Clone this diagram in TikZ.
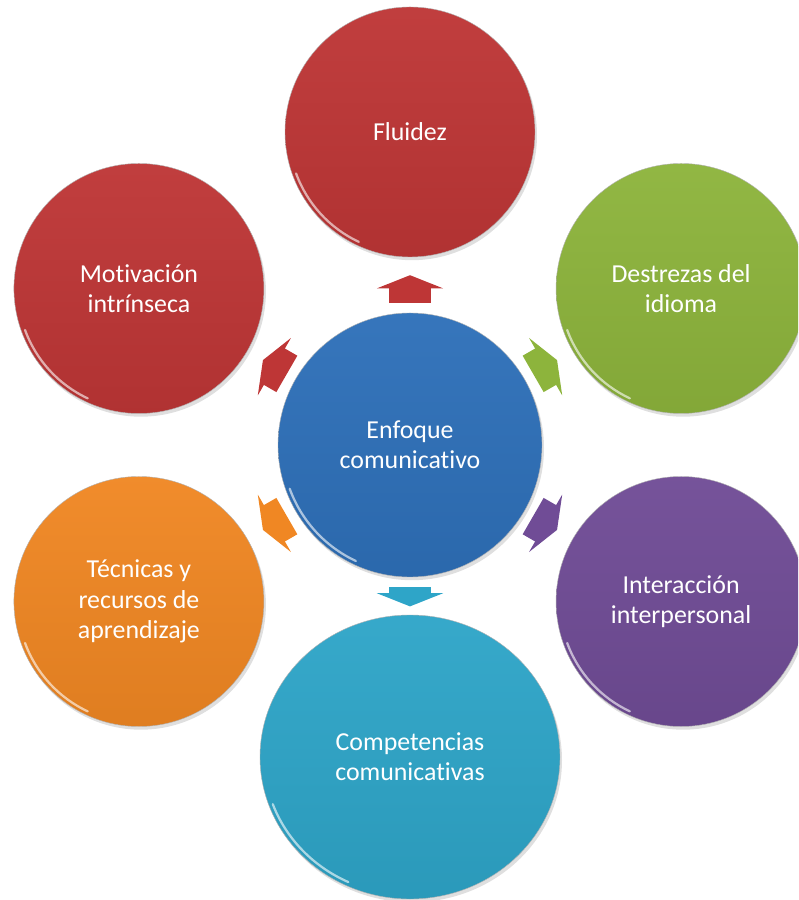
\documentclass[tikz,border=0pt]{standalone}
\usepackage{fontspec}
\setmainfont[Ligatures=NoCommon]{Carlito}
\usetikzlibrary{arrows.meta,shadows,shapes.geometric}
\definecolor{rojo}{RGB}{190,54,54}
\definecolor{verde}{RGB}{141,180,60}
\definecolor{morado}{RGB}{112,76,150}
\definecolor{cian}{RGB}{46,165,200}
\definecolor{naranja}{RGB}{240,135,35}
\definecolor{azul}{RGB}{46,112,185}
\tikzset{
  bubble/.style = {circle, minimum size=6.25cm, inner sep=0pt,
                   align=center, text=white,
                   font=\fontsize{18.4}{21.5}\selectfont,
                   draw=black!30, line width=0.3pt,
                   top color=#1!96!white, bottom color=#1!93!black,
                   drop shadow={opacity=0.25, shadow xshift=0.05cm,
                                shadow yshift=-0.08cm}},
  hub/.style    = {bubble=#1, minimum size=6.6cm},
  flecha/.style = {draw=#1, line width=1.05cm,
                   -{Triangle[width=1.65cm, length=0.33cm, fill=#1]},
                   shorten <=0.25cm, shorten >=0.45cm},
  brillo/.style = {white, opacity=0.6, line width=1.6pt, line cap=round}
}
\begin{document}
\begin{tikzpicture}
  \clip (-10.25,-11.375) rectangle (9.7,11.125);

  % centro
  \node[hub=azul] (enf) at (0,0) {Enfoque\\comunicativo};

  % alrededor
  \node[bubble=rojo]    (flu) at (90:7.825)   {Fluidez};
  \node[bubble=verde]   (des) at (30:7.825)   {Destrezas del\\idioma};
  \node[bubble=morado]  (int) at (-30:7.825)  {Interacción\\interpersonal};
  \node[bubble=cian, ellipse, minimum width=7.5cm, minimum height=7.1cm]
                        (com) at (-90:7.8)    {Competencias\\comunicativas};
  \node[bubble=naranja] (tec) at (-150:7.825) {Técnicas y\\recursos de\\aprendizaje};
  \node[bubble=rojo]    (mot) at (150:7.825)  {Motivación\\intrínseca};

  % flechas
  \draw[flecha=rojo]    (enf) -- (flu);
  \draw[flecha=verde]   (enf) -- (des);
  \draw[flecha=morado]  (enf) -- (int);
  \draw[flecha=cian, shorten >=0.21cm] (enf) -- (com);
  \draw[flecha=naranja] (enf) -- (tec);
  \draw[flecha=rojo]    (enf) -- (mot);

  % brillos
  \foreach \n/\r in {enf/3.2, flu/3.03, des/3.03, int/3.03, tec/3.03, mot/3.03}
    \draw[brillo] ([shift={(200:\r)}]\n.center) arc[start angle=200, end angle=245, radius=\r];
  \draw[brillo] ([shift={(200:3.65 and 3.45)}]com.center)
    arc[start angle=200, end angle=245, x radius=3.65, y radius=3.45];
\end{tikzpicture}
\end{document}
